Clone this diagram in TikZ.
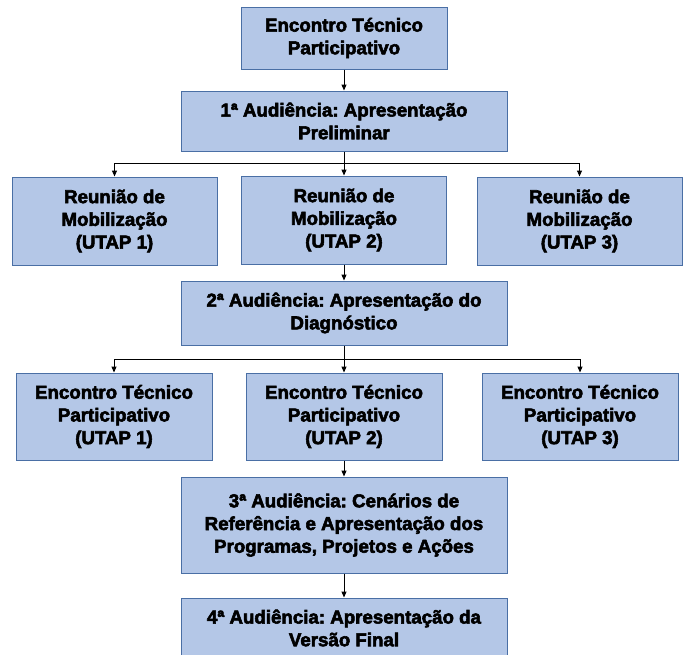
\documentclass[tikz,border=0pt]{standalone}
\usepackage{fontspec}
\setmainfont{Liberation Sans}
\newfontfamily\boxfont{Liberation Sans Bold}[FakeBold=3]
\usetikzlibrary{arrows.meta}
\definecolor{boxfill}{HTML}{B4C7E7}
\definecolor{boxline}{HTML}{4A6FA5}
\frenchspacing
\begin{document}
\begin{tikzpicture}[x=1pt, y=-1pt,
    box/.style={draw=boxline, fill=boxfill, line width=1pt, align=center, inner sep=0pt,
      font=\boxfont\fontsize{18.7}{22.7}\selectfont},
    wide/.style={box, minimum width=326pt},
    small/.style={box, minimum width=205pt, minimum height=88pt},
    arr/.style={line width=1pt, -{Triangle[length=6pt, width=5pt]}}]
  \clip (0, 0) rectangle (683, 654);
  \useasboundingbox (0, 0) rectangle (683, 654);
  \node[box, minimum width=206pt, minimum height=62pt] (enc) at (344, 38) {Encontro Técnico\\Participativo};
  \node[wide, minimum height=60pt] (aud1) at (344, 121) {1ª Audiência: Apresentação\\Preliminar};
  \node[small] (reu1) at (114.5, 221) {Reunião de\\Mobilização\\(UTAP 1)};
  \node[small] (reu2) at (344, 220) {Reunião de\\Mobilização\\(UTAP 2)};
  \node[small] (reu3) at (579.5, 221) {Reunião de\\Mobilização\\(UTAP 3)};
  \node[wide, minimum height=64pt] (aud2) at (344, 313) {2ª Audiência: Apresentação do\\Diagnóstico};
  \node[small, minimum width=196pt, minimum height=87pt] (enc1) at (114, 416.5) {Encontro Técnico\\Participativo\\(UTAP 1)};
  \node[small, minimum width=196pt, minimum height=87pt] (enc2) at (344, 416.5) {Encontro Técnico\\Participativo\\(UTAP 2)};
  \node[small, minimum width=196pt, minimum height=87pt] (enc3) at (580, 416.5) {Encontro Técnico\\Participativo\\(UTAP 3)};
  \node[wide, minimum height=96pt] (aud3) at (344, 525) {3ª Audiência: Cenários de\\Referência e Apresentação dos\\Programas, Projetos e Ações};
  \node[wide, minimum height=60pt] (aud4) at (344, 628) {4ª Audiência: Apresentação da\\Versão Final};
  \coordinate (fork1) at (344, 163);
  \coordinate (fork2) at (344, 359);
  \draw[arr] (enc) -- (aud1);
  \draw[line width=1pt] (aud1) -- (fork1);
  \draw[arr] (fork1) -| (reu1);
  \draw[arr] (fork1) -- (reu2);
  \draw[arr] (fork1) -| (reu3);
  \draw[arr] (reu2) -- (aud2);
  \draw[line width=1pt] (aud2) -- (fork2);
  \draw[arr] (fork2) -| (enc1);
  \draw[arr] (fork2) -- (enc2);
  \draw[arr] (fork2) -| (enc3);
  \draw[arr] (enc2) -- (aud3);
  \draw[arr] (aud3) -- (aud4);
\end{tikzpicture}
\end{document}
